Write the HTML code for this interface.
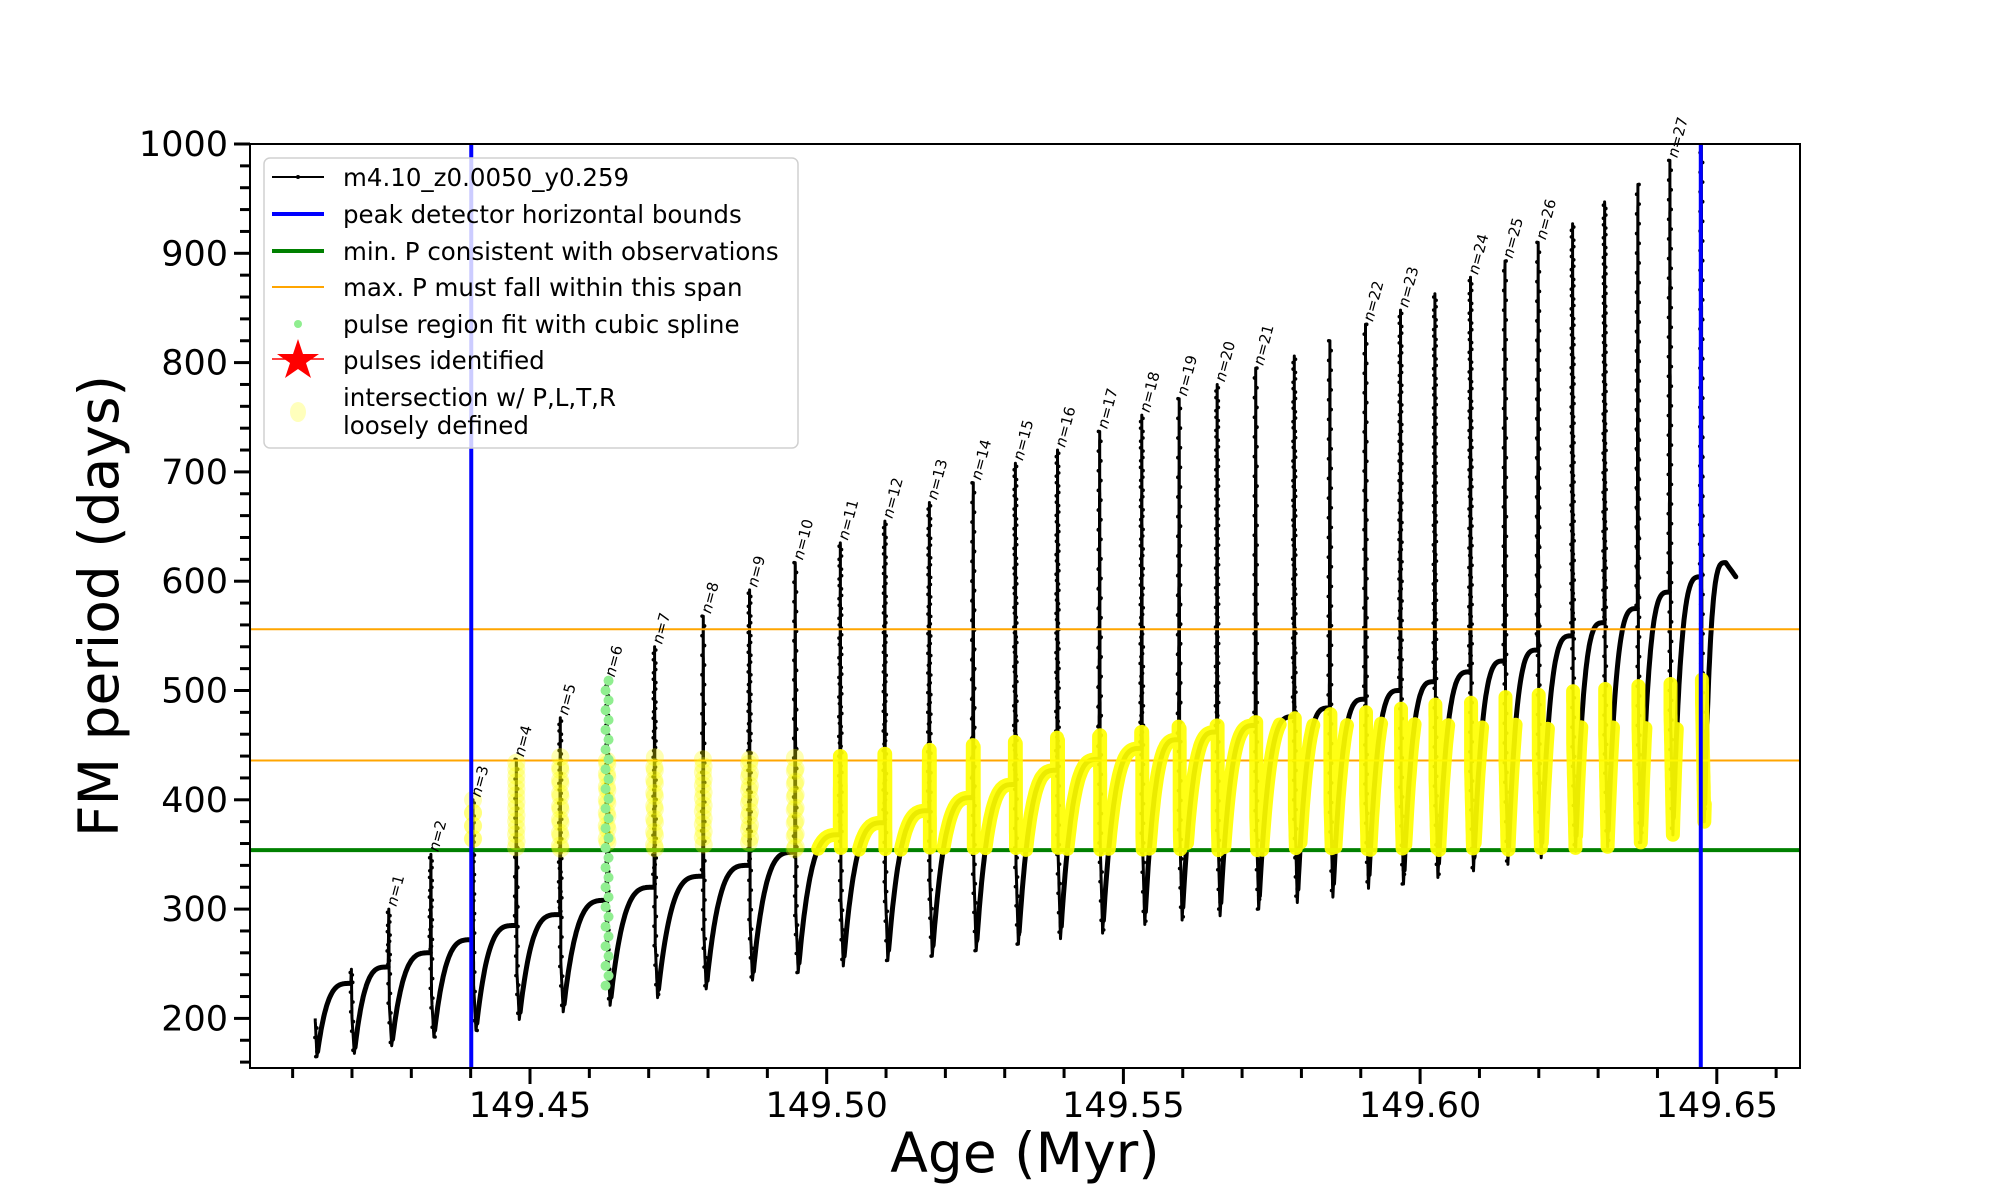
<!DOCTYPE html>
<html><head><meta charset="utf-8"><style>
html,body{margin:0;padding:0;background:#fff;}
svg{display:block;font-family:"DejaVu Sans","Liberation Sans",sans-serif;}
</style></head><body>
<svg id="chart" width="2000" height="1200" viewBox="0 0 2000 1200" xmlns="http://www.w3.org/2000/svg">
<defs><clipPath id="axclip"><rect x="250" y="144" width="1550" height="924"/></clipPath></defs>
<rect x="250" y="144" width="1550" height="924" fill="#fff"/>
<g id="plotArea" clip-path="url(#axclip)"></g>
<g id="labelsG"></g>
<rect x="250" y="144" width="1550" height="924" fill="none" stroke="#000" stroke-width="2"/>
<g id="ticksG"></g>
<text x="1025" y="1172" font-size="55" text-anchor="middle">Age (Myr)</text>
<text transform="translate(118,606) rotate(-90)" font-size="55" text-anchor="middle">FM period (days)</text>
<g id="legend">
  <rect x="264" y="158" width="534" height="290" rx="6" fill="#fff" fill-opacity="0.8" stroke="#d0d0d0" stroke-width="1.5"/>
  <g>
    <line x1="272" y1="177" x2="324" y2="177" stroke="#000" stroke-width="2"/><circle cx="298" cy="177" r="2" fill="#000"/>
    <text x="343" y="186" font-size="24.5">m4.10_z0.0050_y0.259</text></g>
  <g>
    <line x1="272" y1="214" x2="324" y2="214" stroke="#0000ff" stroke-width="4"/>
    <text x="343" y="223" font-size="24.5">peak detector horizontal bounds</text></g>
  <g>
    <line x1="272" y1="251" x2="324" y2="251" stroke="#008000" stroke-width="4"/>
    <text x="343" y="260" font-size="24.5">min. P consistent with observations</text></g>
  <g>
    <line x1="272" y1="287" x2="324" y2="287" stroke="#ffa500" stroke-width="2"/>
    <text x="343" y="296" font-size="24.5">max. P must fall within this span</text></g>
  <g>
    <circle cx="298" cy="324" r="4" fill="#90ee90"/>
    <text x="343" y="333" font-size="24.5">pulse region fit with cubic spline</text></g>
  <g>
    <polygon points="298,339 303,354 319,354 306,363 311,378 298,369 285,378 290,363 277,354 293,354" fill="#ff0000"/>
    <line x1="272" y1="359" x2="324" y2="359" stroke="#ff0000" stroke-width="1.5"/>
    <text x="343" y="369" font-size="24.5">pulses identified</text></g>
  <g>
    <ellipse cx="298" cy="412" rx="8" ry="10" fill="#ffffa0" fill-opacity="0.7"/>
    <text x="343" y="406" font-size="24.5">intersection w/ P,L,T,R</text>
    <text x="343" y="434" font-size="24.5">loosely defined</text></g>
</g>
</svg>
<script>
const pulseAges=[149.4198,149.4261,149.4332,149.4403,149.4476,149.4550,149.4629,149.4709,149.4791,149.4869,149.4946,149.5022,149.5097,149.5172,149.5246,149.5317,149.5388,149.5459,149.5530,149.5593,149.5657,149.5722,149.5787,149.5847,149.5907,149.5966,149.6024,149.6084,149.6142,149.6198,149.6256,149.6310,149.6366,149.6420,149.6473];
const pulsePeaks=[245,300,350,400,437,475,510,540,568,592,617,635,655,672,690,708,720,737,752,767,780,795,806,820,835,848,863,878,893,910,927,947,963,985,1010];
const pulsePlateaus=[232,247,260,272,285,295,308,320,330,340,352,368,379,390,402,414,427,437,447,455,462,468,476,484,492,500,508,517,527,537,550,562,575,590,604];
const pulseMins=[168,175,183,189,199,206,212,219,227,235,242,248,253,257,262,268,273,278,286,290,294,300,306,311,319,323,329,335,341,347,353,357,361,368,380];
const trackStart=[149.4138,200,165];
const trackEnd=[149.6515,617,149.6532,604];
const labelPulseIndex=[1,2,3,4,5,6,7,8,9,10,11,12,13,14,15,16,17,18,19,20,21,24,25,27,28,29,33];
const labelText=["n=1","n=2","n=3","n=4","n=5","n=6","n=7","n=8","n=9","n=10","n=11","n=12","n=13","n=14","n=15","n=16","n=17","n=18","n=19","n=20","n=21","n=22","n=23","n=24","n=25","n=26","n=27"];
const splinePulseIndex=6;
const splineRange=[230,510];
const blueBounds=[149.4401,149.6473];
const minP=354;
const maxPSpan=[436,556];
const xMajorTicks=[149.45,149.50,149.55,149.60,149.65];
const xTickLabels=["149.45","149.50","149.55","149.60","149.65"];
const yMajorTicks=[200,300,400,500,600,700,800,900,1000];
const yTickLabels=["200","300","400","500","600","700","800","900","1000"];

const NS="http://www.w3.org/2000/svg";
const X=v=>530+(v-149.45)*5934;
const Y=v=>144+(1000-v)*1.093;
function mk(tag,attrs,parent){const e=document.createElementNS(NS,tag);for(const k in attrs)e.setAttribute(k,attrs[k]);parent.appendChild(e);return e;}
const plot=document.getElementById('plotArea');
const ticksG=document.getElementById('ticksG');
const labelsG=document.getElementById('labelsG');

const pts=[];
function seg(t0,v0,t1,v1,spike){const n=Math.max(2,Math.ceil(Math.abs(v1-v0)/3));for(let k=1;k<=n;k++){const u=k/n;pts.push([t0+(t1-t0)*u,v0+(v1-v0)*u,spike]);}}
function recov(t0,m,t1,p){const n=50;for(let k=1;k<=n;k++){const u=k/n;pts.push([t0+(t1-t0)*u,m+(p-m)*(1-Math.pow(1-u,3.5)),false]);}}
pts.push([trackStart[0],trackStart[1],false]);
seg(trackStart[0],trackStart[1],trackStart[0]+0.0003,trackStart[2],true);
recov(trackStart[0]+0.0003,trackStart[2],pulseAges[0],pulsePlateaus[0]);
for(let i=0;i<pulseAges.length;i++){
  const t=pulseAges[i],P=pulsePlateaus[i],K=pulsePeaks[i],M=pulseMins[i],S=P-0.5*(P-M);
  seg(t,P,t+0.0001,K,true);
  seg(t+0.0001,K,t+0.0002,S,true);
  seg(t+0.0002,S,t+0.0006,M,true);
  if(i<pulseAges.length-1) recov(t+0.0006,M,pulseAges[i+1],pulsePlateaus[i+1]);
  else {recov(t+0.0006,M,trackEnd[0],trackEnd[1]); seg(trackEnd[0],trackEnd[1],trackEnd[2],trackEnd[3],false);}
}
let d='';pts.forEach((p,i)=>{d+=(i?'L':'M')+X(p[0]).toFixed(1)+','+Y(p[1]).toFixed(1);});
const curve=mk('path',{d:d,fill:'none',stroke:'#000','stroke-width':'3','stroke-linejoin':'round'},plot);


let d2='';let on=false;
for(let i=1;i<pts.length;i++){if(!pts[i][2]&&!pts[i-1][2]){if(!on){d2+='M'+X(pts[i-1][0]).toFixed(1)+','+Y(pts[i-1][1]).toFixed(1);on=true;}d2+='L'+X(pts[i][0]).toFixed(1)+','+Y(pts[i][1]).toFixed(1);}else on=false;}
const thick=mk('path',{d:d2,fill:'none',stroke:'#000','stroke-width':'5','stroke-linecap':'round','stroke-linejoin':'round'},plot);


const dotsG=mk('g',{fill:'#000'},plot);


let cnt=0;pts.forEach(p=>{if(p[2]){cnt++;if(cnt%3===0)mk('circle',{cx:X(p[0])+((cnt%2)?1.2:-1.2),cy:Y(p[1]),r:1.8},dotsG);}});

const gl=mk('line',{x1:250,x2:1800,y1:Y(minP),y2:Y(minP),stroke:'#008000','stroke-width':4},plot);


maxPSpan.forEach(v=>{const l=mk('line',{x1:250,x2:1800,y1:Y(v),y2:Y(v),stroke:'#ffa500','stroke-width':2},plot);

});

const capSpike=t=>Math.max(440,Math.min(515,465+(t-149.555)/(0.092)*45));
const capCurve=t=>Math.min(470,capSpike(t));
const capF=(p)=>p[2]?capSpike(p[0]):capCurve(p[0]);
const yellowG=mk('g',{},plot);


let fc=0;
pts.forEach(p=>{if(p[0]<149.497&&p[0]>149.438&&p[2]&&p[1]>=minP&&p[1]<=capSpike(p[0])){fc++;if(fc%4===0){mk('circle',{cx:X(p[0]),cy:Y(p[1]),r:9,fill:'#ffff00','fill-opacity':0.3},yellowG);}}});
let yd='';let run=false;
for(let i=1;i<pts.length;i++){const a=pts[i-1],b=pts[i];
  const ok=a[0]>=149.497&&b[0]<=blueBounds[1]+0.0007&&a[1]>=minP&&b[1]>=minP&&a[1]<=capF(a)&&b[1]<=capF(b);
  if(ok){if(!run){yd+='M'+X(a[0]).toFixed(1)+','+Y(a[1]).toFixed(1);run=true;}yd+='L'+X(b[0]).toFixed(1)+','+Y(b[1]).toFixed(1);}else run=false;}
const yp=mk('path',{d:yd,fill:'none',stroke:'#ffff00','stroke-width':14,'stroke-linecap':'round','stroke-linejoin':'round','stroke-opacity':0.92},yellowG);



const sg=mk('g',{fill:'#90ee90'},plot);


for(let v=splineRange[0];v<=splineRange[1];v+=9){mk('circle',{cx:X(pulseAges[splinePulseIndex])+((v%2)?2:-1),cy:Y(v),r:5},sg);}

blueBounds.forEach(b=>{const l=mk('line',{x1:X(b),x2:X(b),y1:144,y2:1068,stroke:'#0000ff','stroke-width':4},plot);

});

labelPulseIndex.forEach((idx,i)=>{const x=X(pulseAges[idx])+8,y=Y(Math.min(pulsePeaks[idx],1000))-2;
 const t=mk('text',{x:0,y:0,'font-size':15,transform:'translate('+x.toFixed(1)+','+y.toFixed(1)+') rotate(-75)'},labelsG);
 
 
 const ts=mk('tspan',{'font-style':'italic'},t);ts.textContent='n';
 t.appendChild(document.createTextNode(labelText[i].slice(1)));});

for(let k=0;k<=25;k++){const v=149.41+k*0.01;const x=X(v);if(x<250||x>1800)continue;
 const major=xMajorTicks.some(m=>Math.abs(m-v)<1e-6);
 const l=mk('line',{x1:x,x2:x,y1:1068,y2:1068+(major?16:10),stroke:'#000','stroke-width':3},ticksG);
 
 }
xMajorTicks.forEach((v,i)=>{const t=mk('text',{x:X(v),y:1117,'font-size':35,'text-anchor':'middle'},ticksG);t.textContent=xTickLabels[i];
 
 });
for(let v=160;v<=1000;v+=20){const y=Y(v);const major=v%100===0;
 const l=mk('line',{x1:250-(major?16:10),x2:250,y1:y,y2:y,stroke:'#000','stroke-width':3},ticksG);
 
 }
yMajorTicks.forEach((v,i)=>{const t=mk('text',{x:228,y:Y(v)+12,'font-size':35,'text-anchor':'end'},ticksG);t.textContent=yTickLabels[i];
 
 });
</script>
</body></html>
